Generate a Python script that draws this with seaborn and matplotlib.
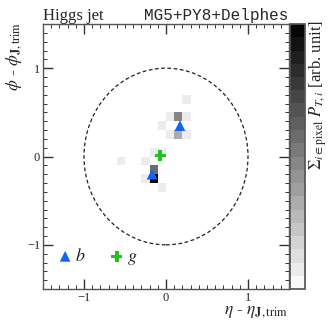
import numpy as np
import matplotlib
matplotlib.use("Agg")
import matplotlib.pyplot as plt
from matplotlib.colors import ListedColormap
from matplotlib.patches import Circle
import seaborn as sns
import pandas as pd

# ---- data ----
cell_x = [0.25, 0.05, 0.15, 0.25, -0.05, 0.05, 0.15, 0.25, -0.15, -0.05,
          -0.55, -0.25, -0.15, -0.25, -0.15, -0.05]
cell_y = [0.65, 0.45, 0.45, 0.45, 0.35, 0.25, 0.25, 0.25, 0.05, 0.05,
          -0.05, -0.05, -0.15, -0.25, -0.25, -0.35]
cell_v = [0.07, 0.07, 0.46, 0.07, 0.07, 0.07, 0.32, 0.07, 0.07, 0.07,
          0.07, 0.07, 0.57, 0.07, 1.0, 0.07]
b_x = [-0.17, 0.17]
b_y = [-0.20, 0.35]
g_x = [-0.07]
g_y = [0.01]
legend_b = (-1.23, -1.13)
legend_g = (-0.60, -1.13)

sns.set_theme(style="ticks")
plt.rcParams["font.family"] = ["Liberation Serif", "DejaVu Serif"]
plt.rcParams["mathtext.fontset"] = "stix"

fig = plt.figure(figsize=(3.32, 3.32), dpi=100)
ax = fig.add_axes([43/332, 1-289/332, 246/332, 265/332])
cax = fig.add_axes([290/332, 1-289/332, 15/332, 265/332])

# grid
edges = np.round(np.arange(-1.5, 1.5001, 0.1), 3)
Z = np.zeros((len(edges)-1, len(edges)-1))
for x, y, v in zip(cell_x, cell_y, cell_v):
    i = int(np.floor((y + 1.5) / 0.1 + 1e-6))
    j = int(np.floor((x + 1.5) / 0.1 + 1e-6))
    Z[i, j] = v
Zm = np.ma.masked_where(Z <= 0, Z)

cols = plt.get_cmap("gray_r")((np.arange(20) + 0.5) / 20)
cmap = ListedColormap(cols)
mesh = ax.pcolormesh(edges, edges, Zm, cmap=cmap, vmin=0, vmax=1)

circ = Circle((0, 0), 1.0, fill=False, ls=(0, (3, 2)), lw=0.9, color="#222222")
ax.add_patch(circ)

df_b = pd.DataFrame({"x": b_x + [legend_b[0]], "y": b_y + [legend_b[1]]})
df_g = pd.DataFrame({"x": g_x + [legend_g[0]], "y": g_y + [legend_g[1]]})
sns.scatterplot(data=df_b, x="x", y="y", marker="^", s=60, color="#1464f4",
                edgecolor="none", ax=ax, zorder=5)
sns.scatterplot(data=df_g, x="x", y="y", marker="P", s=60, color="#1ec31e",
                edgecolor="none", ax=ax, zorder=5)
ax.text(legend_b[0] + 0.12, legend_b[1], "$b$", fontsize=13, va="center", ha="left")
ax.text(legend_g[0] + 0.12, legend_g[1] - 0.03, "$g$", fontsize=13, va="center", ha="left")

ax.set_xlim(-1.5, 1.5)
ax.set_ylim(-1.5, 1.5)
ax.set_xticks([-1, 0, 1])
ax.set_yticks([-1, 0, 1])
ax.set_xticklabels(["\u22121", "0", "1"])
ax.set_yticklabels(["\u22121", "0", "1"])
ax.set_xticks(np.arange(-1.5, 1.51, 0.1), minor=True)
ax.set_yticks(np.arange(-1.5, 1.51, 0.1), minor=True)
ax.tick_params(which="both", direction="in", top=True, right=True,
               labelsize=9, color="#333333", pad=2)
ax.tick_params(which="major", length=7, width=1)
ax.tick_params(which="minor", length=3, width=0.7)
for s in ax.spines.values():
    s.set_color("#555555")
    s.set_linewidth(1.0)
ax.set_xlabel("")
ax.set_ylabel("")

fig.text(288/332, 1-320/332, r"$\eta$ - $\eta_{\mathbf{J},\mathrm{trim}}$",
         fontsize=12.5, ha="right", va="bottom")
fig.text(14/332, 1-22/332, r"$\phi$ - $\phi_{\mathbf{J},\mathrm{trim}}$",
         fontsize=12.5, ha="center", va="top", rotation=90)
fig.text(43/332, 1-20/332, "Higgs jet", fontsize=12, ha="left", va="baseline")
fig.text(288/332, 1-20/332, "MG5+PY8+Delphes", fontsize=11.5, ha="right",
         va="baseline", family=["Liberation Mono", "DejaVu Sans Mono"])

cb = fig.colorbar(mesh, cax=cax)
cb.set_ticks(np.arange(0.125, 1.0, 0.125))
cb.ax.tick_params(direction="in", length=6, width=0.8, labelright=False,
                  color="#555555", right=True)
cb.outline.set_edgecolor("#555555")
fig.text(318/332, 1-20/332, r"$\Sigma_{i\in\mathrm{pixel}}\ P_{T,i}$ [arb. unit]",
         fontsize=12, ha="center", va="top", rotation=90)

fig.savefig("out.png", dpi=100)
